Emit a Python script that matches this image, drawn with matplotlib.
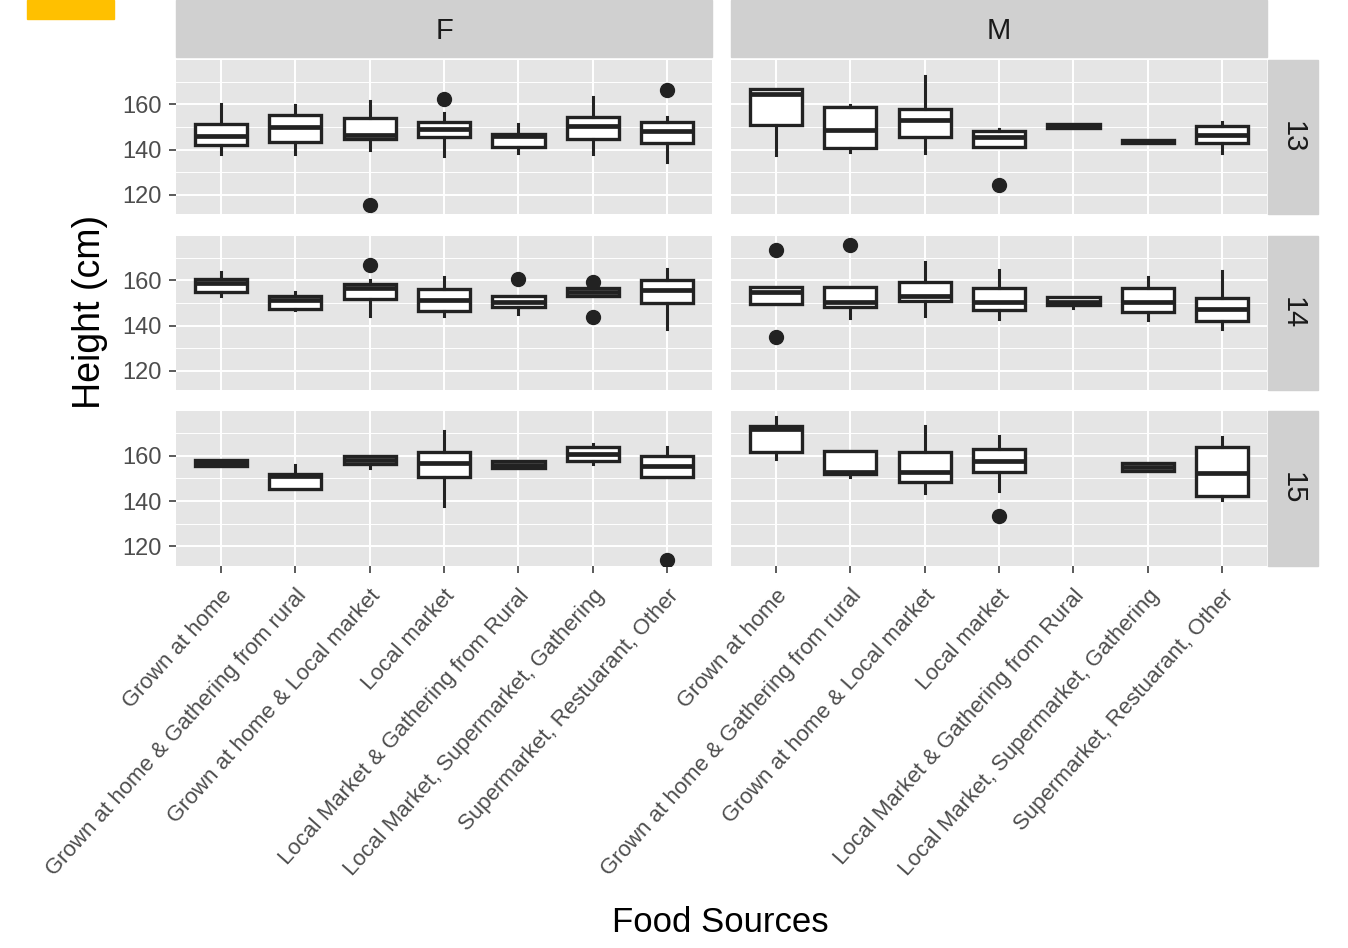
import matplotlib
matplotlib.use("Agg")
import matplotlib.pyplot as plt
from matplotlib.patches import Rectangle

plt.rcParams['font.family'] = ['Liberation Sans', 'DejaVu Sans']

categories = [
    "Grown at home",
    "Grown at home & Gathering from rural",
    "Grown at home & Local market",
    "Local market",
    "Local Market & Gathering from Rural",
    "Local Market, Supermarket, Gathering",
    "Supermarket, Restuarant, Other",
]
sexes = ["F", "M"]
ages = ["13", "14", "15"]

# each box: whisker low, q1, median, q3, whisker high
f13 = [[138, 142, 146, 151.5, 160], [138, 143.5, 150, 155.5, 159.6],
       [140, 144.6, 146.4, 154, 161.3], [137.3, 145.6, 149, 152, 156.3],
       [138.3, 141.3, 146.2, 147.1, 151.5], [138, 144.6, 150.5, 154.4, 163.2],
       [134.4, 142.7, 148.1, 152.3, 154.4]]
f13_out = [[], [], [115.6], [162.5], [], [], [166.2]]

m13 = [[137.6, 150.8, 164.7, 166.9, 166.9], [138.8, 140.8, 148.6, 158.8, 159.6],
       [138.3, 145.6, 153, 158.1, 172.7], [141.3, 141.3, 145.6, 148.1, 149.3],
       [149.5, 149.5, 150.5, 151.5, 151.5], [142.8, 142.8, 143.5, 144.3, 144.3],
       [138.3, 143.1, 146.4, 150.5, 152.3]]
m13_out = [[], [], [], [124.4], [], [], []]

f14 = [[153.3, 154.8, 158.8, 160.7, 163.7], [146.7, 147.4, 151.2, 153.3, 154.8],
       [144.4, 151.9, 156.7, 158.2, 160.3], [144.4, 146.4, 151.1, 156.3, 161.5],
       [144.9, 148.1, 150.4, 153.3, 153.3], [153.3, 153.3, 155, 156.7, 156.7],
       [138.5, 149.9, 155.6, 160, 165.2]]
f14_out = [[], [], [166.7], [], [160.7], [159.3, 143.7], []]

m14 = [[149.6, 149.6, 155, 157, 157], [143.4, 148.1, 150.4, 157, 157],
       [144.4, 151, 153, 159.3, 168.1], [143, 147, 150.4, 156.7, 164.4],
       [147.6, 148.9, 150.5, 152.6, 152.6], [142.5, 145.9, 150.4, 156.7, 161.5],
       [138.5, 142.2, 147.4, 152.1, 164.1]]
m14_out = [[173.3, 134.8], [175.6], [], [], [], [], []]

f15 = [[155.3, 155.3, 156.8, 158.2, 158.2], [145.5, 145.5, 151, 152.1, 155.9],
       [154.8, 156.3, 158, 159.7, 159.7], [137.8, 150.8, 157, 161.5, 170.7],
       [154.8, 154.8, 156, 157.5, 157.5], [156.3, 157.8, 160.7, 163.7, 165.2],
       [150.4, 150.4, 155.3, 160, 163.7]]
f15_out = [[], [], [], [], [], [], [114.1]]

m15 = [[158.5, 161.5, 171.6, 173.3, 177], [150.8, 151.9, 153, 162.2, 162.2],
       [143.4, 148.4, 153, 161.8, 173.3], [144.4, 153, 157.8, 163, 168.9],
       None, [153.3, 153.3, 155, 156.7, 156.7],
       [140.4, 142.2, 152.6, 163.7, 168.1]]
m15_out = [[], [], [], [133.3], [], [], []]

panels = {
    ("F", "13"): (f13, f13_out), ("M", "13"): (m13, m13_out),
    ("F", "14"): (f14, f14_out), ("M", "14"): (m14, m14_out),
    ("F", "15"): (f15, f15_out), ("M", "15"): (m15, m15_out),
}

W, H = 1348, 948
fig = plt.figure(figsize=(W / 100, H / 100), dpi=100)


def px_box(x0, y0, x1, y1):
    return [x0 / W, 1 - y1 / H, (x1 - x0) / W, (y1 - y0) / H]


col_x = [(176, 712), (731, 1267)]
row_y = [(60, 214), (236, 390), (411, 566)]
tick_col = '#4D4D4D'
ink = '#222222'

for r, age in enumerate(ages):
    for c, sex in enumerate(sexes):
        ax = fig.add_axes(px_box(col_x[c][0], row_y[r][0], col_x[c][1], row_y[r][1]))
        ax.set_facecolor('#E5E5E5')
        boxes, outs = panels[(sex, age)]
        stats, pos = [], []
        for i, b in enumerate(boxes):
            if b is None:
                continue
            stats.append(dict(whislo=b[0], q1=b[1], med=b[2], q3=b[3], whishi=b[4],
                              fliers=outs[i]))
            pos.append(i + 1)
        ax.bxp(stats, positions=pos, widths=0.7, patch_artist=True, showcaps=False,
               boxprops=dict(facecolor='white', edgecolor=ink, linewidth=2.4),
               medianprops=dict(color=ink, linewidth=3.4),
               whiskerprops=dict(color=ink, linewidth=2.2),
               flierprops=dict(marker='o', markerfacecolor=ink,
                               markeredgecolor=ink, markersize=10),
               zorder=3)
        ax.set_xlim(0.4, 7.6)
        ax.set_ylim(111.4, 179.7)
        ax.set_yticks([120, 140, 160])
        ax.set_yticks([130, 150, 170], minor=True)
        ax.set_xticks(range(1, 8))
        ax.grid(True, which='major', color='white', linewidth=1.4, zorder=0)
        ax.grid(True, which='minor', axis='y', color='white', linewidth=0.7, zorder=0)
        ax.set_axisbelow(True)
        for s in ax.spines.values():
            s.set_visible(False)
        ax.tick_params(which='minor', length=0)
        ax.tick_params(axis='both', which='major', color=tick_col, length=5, width=1.3,
                       labelcolor=tick_col, pad=5)
        if c == 0:
            ax.set_yticklabels(['120', '140', '160'], fontsize=17)
        else:
            ax.tick_params(axis='y', length=0, labelleft=False)
        if r == 2:
            ax.set_xticklabels(categories, rotation=48, ha='right',
                               rotation_mode='anchor', fontsize=16)
            ax.tick_params(axis='x', pad=9)
        else:
            ax.tick_params(axis='x', length=0, labelbottom=False)

# strips
for c, sex in enumerate(sexes):
    x0, x1 = col_x[c]
    fig.patches.append(Rectangle((x0 / W, 1 - 57 / H), (x1 - x0) / W, 57 / H,
                                 transform=fig.transFigure, color='#D0D0D0', zorder=0))
    fig.text((x0 + x1) / 2 / W, 1 - 31 / H, sex, ha='center', va='center',
             fontsize=21, color='#1A1A1A')
for r, age in enumerate(ages):
    y0, y1 = row_y[r]
    fig.patches.append(Rectangle((1268 / W, 1 - y1 / H), 50 / W, (y1 - y0) / H,
                                 transform=fig.transFigure, color='#D0D0D0', zorder=0))
    fig.text(1293 / W, 1 - (y0 + y1) / 2 / H, age, ha='center', va='center',
             rotation=-90, fontsize=21, color='#1A1A1A')

# small yellow marker at top-left
fig.patches.append(Rectangle((27 / W, 1 - 19 / H), 87 / W, 19 / H,
                             transform=fig.transFigure, color='#FFC000', zorder=0))

fig.text(720 / W, 1 - 922 / H, "Food Sources", ha='center', va='center',
         fontsize=25, color='black')
fig.text(90 / W, 1 - 312 / H, "Height (cm)", ha='center', va='center',
         rotation=90, fontsize=27, color='black')

fig.savefig("out.png", dpi=100)
